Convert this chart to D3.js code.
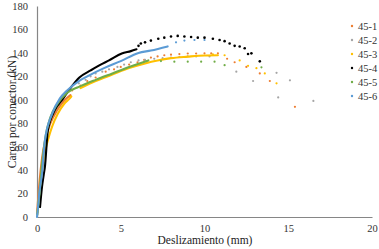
<!DOCTYPE html>
<html lang="pt">
<head>
<meta charset="UTF-8">
<title>Carga x deslizamento</title>
<script src="https://cdn.jsdelivr.net/npm/d3@7"></script>
<style>
  body { margin: 0; background: #fff; }
  svg { display: block; }
  svg text { font-family: "Liberation Serif", "DejaVu Serif", serif; }
</style>
</head>
<body>
<div id="graphDiv"></div>
<script>
// series names and colours (Excel defaults, 45-4 in black)
var seriesNames = ["45-1", "45-2", "45-3", "45-4", "45-5", "45-6"]
var seriesColors = ["#ED7D31", "#A5A5A5", "#FFC000", "#000000", "#70AD47", "#5B9BD5"]

var xTicks = [0, 5, 10, 15, 20]
var yTicks = [0, 20, 40, 60, 80, 100, 120, 140, 160, 180]

// dense parts (read as continuous) : [deslizamento mm, carga kN]
var dense451 = [[0, 3], [0.05, 12], [0.15, 30], [0.3, 50], [0.5, 66], [0.8, 80], [1.2, 91], [1.6, 99], [2.0, 104]]
var dense453 = [[0.02, 4], [0.06, 8], [0.15, 20], [0.3, 40], [0.47, 55], [0.7, 68], [0.9, 77], [1.24, 88], [1.65, 97], [1.94, 101], [2.05, 103]]
var dense453b = [[2.6, 110], [3.5, 116], [4.5, 121.5], [5.5, 127], [6.45, 131], [7.2, 133.5], [8, 135.5], [9, 136.8], [10, 137.8], [10.8, 138]]
var dense454 = [[0.18, 8.5], [0.3, 26], [0.4, 36], [0.47, 42.5], [0.65, 74], [1.06, 91], [1.5, 100], [2.0, 110], [2.53, 119], [3.2, 125], [3.8, 130], [4.3, 133.6], [5.06, 139.5], [5.6, 141.5], [5.94, 143]]
var dense455 = [[0.02, 2], [0.05, 6], [0.15, 20], [0.3, 45], [0.5, 68], [0.8, 85], [1.2, 96], [1.8, 106], [2.5, 111], [3.5, 117], [4.5, 122.5], [5.5, 128], [6.65, 133.6]]
var dense456 = [[0, 0], [0.06, 8.5], [0.15, 22], [0.3, 37], [0.47, 65], [0.9, 88], [1.36, 101], [1.8, 108], [2.5, 116], [3, 120], [4, 127], [5, 133], [6.06, 140], [6.8, 142], [7.8, 145.5]]

// sparse points (shown as single markers)
var sparse451 = [[2.1, 108], [2.6, 112], [3.0, 116], [3.5, 119], [4.1, 124], [4.6, 126], [5.0, 128], [5.5, 130], [6.0, 132], [6.4, 134], [6.8, 136], [7.2, 137], [7.6, 138], [8.0, 138.5], [8.5, 139], [9.0, 139.5], [9.5, 139.5], [10.0, 139.6], [10.4, 139.6], [10.8, 139.6], [11.35, 135], [11.8, 132], [12.5, 128], [13.3, 122.5], [13.9, 116], [15.4, 94]]
var sparse452 = [[2.5, 114], [2.9, 117], [3.2, 120], [3.5, 122.5], [3.9, 124], [4.3, 126], [4.8, 128], [5.2, 130], [5.6, 132], [6.06, 133.6], [6.45, 134], [7.0, 135], [7.5, 135.5], [8.0, 136], [8.5, 136.5], [9.0, 137], [9.5, 137], [10.3, 137], [11.9, 124], [12.9, 116], [14.3, 123], [15.1, 116.6], [14.4, 102], [16.5, 99]]
var sparse453 = [[10.5, 138.7], [11.2, 138], [12.1, 133.6], [12.6, 129], [13.1, 127], [13.6, 122.5], [14.3, 114]]
var sparse454 = [[6.06, 146], [6.2, 148], [6.45, 149], [6.8, 150.5], [7.24, 152], [7.6, 153], [8.0, 154], [8.4, 154.5], [8.8, 154], [9.2, 153.5], [9.6, 153], [10.0, 153], [10.5, 152], [10.9, 151], [11.2, 150], [11.5, 148], [11.8, 146], [12.1, 145.5], [12.4, 144], [12.6, 139], [12.8, 139.6], [13.3, 132.8]]
var sparse455 = [[7.4, 133], [8.2, 132.5], [9.0, 132.5], [9.8, 132.5], [10.6, 132.5], [11.2, 129.5], [13.4, 127.7]]
var sparse456 = [[8.3, 149], [8.8, 150.5], [9.4, 151], [10.0, 151]]

var width = 379
var height = 249
var serif = "Liberation Serif"

var xScale = d3.scaleLinear().domain([0, 20]).range([37, 372])
var yScale = d3.scaleLinear().domain([0, 180]).range([217, 6])

var svg = d3.select('#graphDiv')
    .append('svg')
    .attr('width', width)
    .attr('height', height)

// axes
var xAxis = d3.axisBottom(xScale).tickValues(xTicks).tickSize(0).tickPadding(8)
var gx = svg.append('g')
    .attr('transform', 'translate(0,' + yScale(0) + ')')
    .call(xAxis)
    .attr('font-family', serif)
    .attr('font-size', 10.5)
gx.select('.domain').attr('stroke', '#868686').attr('stroke-width', 1.2)
gx.selectAll('text').attr('fill', '#333')

var yAxis = d3.axisLeft(yScale).tickValues(yTicks).tickSize(0).tickPadding(9)
var gy = svg.append('g')
    .attr('transform', 'translate(' + xScale(0) + ',0)')
    .call(yAxis)
    .attr('font-family', serif)
    .attr('font-size', 10.5)
gy.select('.domain').attr('stroke', '#868686').attr('stroke-width', 1.2)
gy.selectAll('text').attr('fill', '#333')

// axis titles
svg.append('text')
    .attr('x', 205).attr('y', 244)
    .attr('text-anchor', 'middle')
    .attr('font-family', serif)
    .attr('font-size', 11.5).attr('fill', '#222')
    .text('Deslizamiento (mm)')

svg.append('text')
    .attr('transform', 'translate(16,112) rotate(-90)')
    .attr('text-anchor', 'middle')
    .attr('font-family', serif)
    .attr('font-size', 11.5).attr('fill', '#222')
    .text('Carga por conector (kN)')

var line = d3.line()
    .x(d => xScale(d[0]))
    .y(d => yScale(d[1]))
    .curve(d3.curveMonotoneX)

var denseSets = [[dense451], [], [dense453, dense453b], [dense454], [dense455], [dense456]]
var sparseSets = [sparse451, sparse452, sparse453, sparse454, sparse455, sparse456]

var plot = svg.append('g')

seriesNames.forEach((name, i) => {
    var g = plot.append('g')
    denseSets[i].forEach(pts => {
        g.append('path')
            .datum(pts)
            .attr('d', line)
            .attr('fill', 'none')
            .attr('stroke', seriesColors[i])
            .attr('stroke-width', 2.1)
            .attr('stroke-linecap', 'round')
    })
    g.selectAll('circle')
        .data(sparseSets[i])
        .join('circle')
        .attr('cx', d => xScale(d[0]))
        .attr('cy', d => yScale(d[1]))
        .attr('r', i == 3 ? 1.3 : 1.1)
        .attr('fill', seriesColors[i])
})

// legend
var legend = svg.append('g')
    .selectAll('g')
    .data(seriesNames)
    .join('g')
    .attr('transform', (d, i) => 'translate(352,' + (26 + i * 14) + ')')

legend.append('circle')
    .attr('r', 1.2)
    .attr('fill', (d, i) => seriesColors[i])

legend.append('text')
    .attr('x', 6).attr('y', 3.5)
    .attr('font-family', serif)
    .attr('font-size', 10.5).attr('fill', '#333')
    .text(d => d)
</script>
</body>
</html>
